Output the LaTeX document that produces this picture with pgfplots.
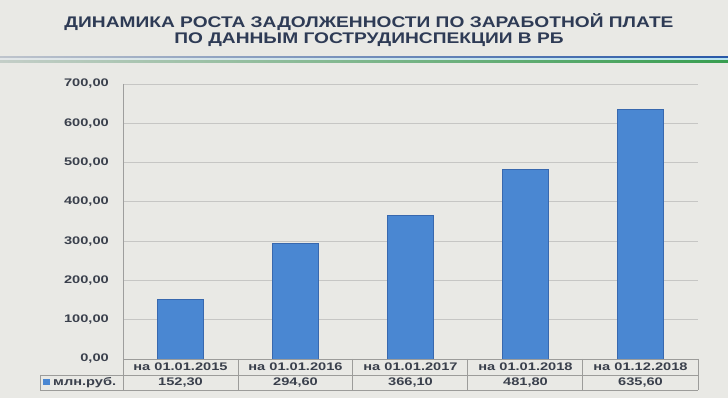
\documentclass[border=0pt]{standalone}
\usepackage{pgfplots}
\pgfplotsset{compat=1.18}
\usepackage{fontspec}
\setmainfont{Liberation Sans}[FakeStretch=1.33]
\newfontfamily\titlefont{Liberation Sans}[FakeStretch=1.245]
\definecolor{bgc}{HTML}{E9E9E5}
\definecolor{titlec}{HTML}{2E3B55}
\definecolor{tickc}{HTML}{3A404C}
\definecolor{gridc}{HTML}{C6C6C4}
\definecolor{tablec}{HTML}{9C9C9A}
\definecolor{barc}{HTML}{4A87D2}
\definecolor{baredge}{HTML}{3868AE}
\begin{document}
\begin{tikzpicture}[x=1pt,y=1pt]
\fill[bgc] (0,0) rectangle (728,398);
% decorative stripes
\shade[left color={rgb,255:red,190;green,196;blue,204}, right color={rgb,255:red,40;green,88;blue,168}] (0,398-58.5) rectangle (728,398-56.5);
\shade[left color={rgb,255:red,226;green,230;blue,232}, right color={rgb,255:red,185;green,228;blue,240}] (0,398-61) rectangle (728,398-58.5);
\shade[left color={rgb,255:red,196;green,206;blue,200}, right color={rgb,255:red,56;green,158;blue,80}] (0,398-63) rectangle (728,398-61);
% title
\node[font=\titlefont\bfseries\fontsize{15.4}{18}\selectfont, text=titlec, anchor=base, inner sep=0pt] at (369,398-27.3) {ДИНАМИКА РОСТА ЗАДОЛЖЕННОСТИ ПО ЗАРАБОТНОЙ ПЛАТЕ};
\node[font=\titlefont\bfseries\fontsize{15.4}{18}\selectfont, text=titlec, anchor=base, inner sep=0pt] at (369,398-43.3) {ПО ДАННЫМ ГОСТРУДИНСПЕКЦИИ В РБ};
\begin{axis}[
  at={(123pt,39pt)}, anchor=south west,
  scale only axis, width=575pt, height=275pt,
  xmin=-0.5, xmax=4.5, ymin=0, ymax=700,
  ybar, bar width=46pt,
  xtick={0,1,2,3,4},
  xticklabels={на 01.01.2015, на 01.01.2016, на 01.01.2017, на 01.01.2018, на 01.12.2018},
  ytick={0,100,...,700},
  major tick length=0pt,
  ymajorgrids, grid style={draw=gridc, line width=0.8pt},
  axis line style={draw=none},
  clip=false,
  tick label style={font=\bfseries\fontsize{11}{13}\selectfont, text=tickc},
  y tick label style={anchor=east, inner sep=0pt, xshift=-14pt,
    /pgf/number format/fixed, /pgf/number format/fixed zerofill,
    /pgf/number format/precision=2, /pgf/number format/use comma,
    /pgf/number format/1000 sep={}, /pgf/number format/assume math mode=true},
  x tick label style={anchor=base, inner sep=0pt, yshift=-11.7pt},
]
\addplot[fill=barc, draw=baredge, line width=0.6pt] coordinates {(0,152.3) (1,294.6) (2,366.1) (3,481.8) (4,635.6)};
\end{axis}
% left axis line
\draw[gridc!80!black, line width=0.8pt] (123,398-84) -- (123,398-359);
% data table
\begin{scope}[draw=tablec, line width=0.8pt]
\draw (123,398-359) -- (698,398-359);
\draw (40,398-375) -- (698,398-375);
\draw (40,398-390) -- (698,398-390);
\draw (40,398-375) -- (40,398-390);
\foreach \x in {123,238,352,467,582,698} {\draw (\x,398-359) -- (\x,398-390);}
\end{scope}
\fill[barc] (43,398-385) rectangle (50,398-379.5);
\node[font=\bfseries\fontsize{11}{13}\selectfont, text=tickc, anchor=base west, inner sep=0pt] at (53,398-385.7) {млн.руб.};
\foreach \x/\v in {180.5/{152,30}, 295.5/{294,60}, 410.5/{366,10}, 525.5/{481,80}, 640.5/{635,60}}
  {\node[font=\bfseries\fontsize{11}{13}\selectfont, text=tickc, anchor=base, inner sep=0pt] at (\x,398-385.7) {\v};}
\end{tikzpicture}
\end{document}
